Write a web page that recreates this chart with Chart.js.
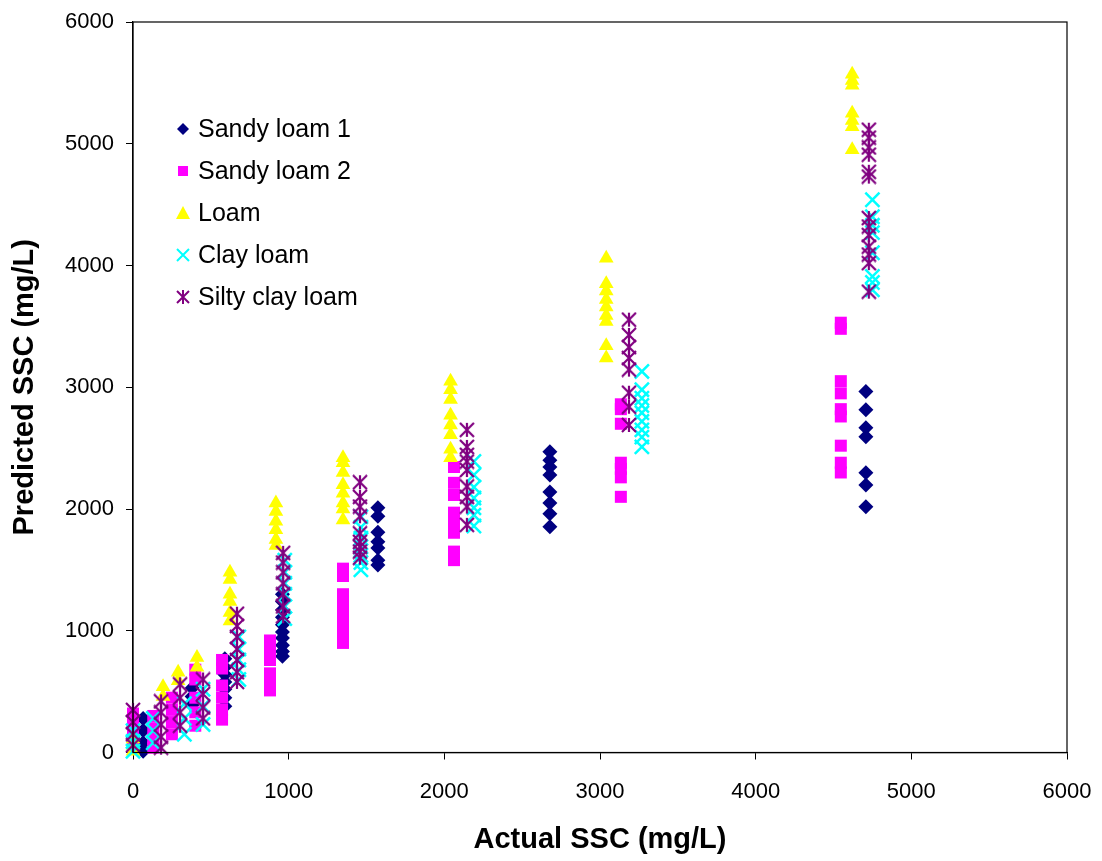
<!DOCTYPE html>
<html>
<head>
<meta charset="utf-8">
<script src="https://cdn.jsdelivr.net/npm/chart.js@4/dist/chart.umd.min.js"></script>
<style>
  html, body { margin: 0; padding: 0; background: #fff; }
  canvas { display: block; }
</style>
</head>
<body>
<canvas id="sscChart" width="1102" height="861"></canvas>
<script>
// --- data: actual SSC levels per soil, with predicted values at each level ---
const sandyLoam1Actual = [65, 380, 590, 960, 1573, 2678, 4708];
const sandyLoam1Predicted = [
    [280, 180, 80, 10],
    [530, 460, 390],
    [770, 700, 640, 580, 520, 450, 380],
    [1300, 1240, 1170, 1110, 1050, 990, 940, 880, 830, 790],
    [2010, 1940, 1810, 1730, 1680, 1580, 1540],
    [2470, 2400, 2345, 2280, 2140, 2050, 1960, 1855],
    [2965, 2815, 2667, 2593, 2297, 2198, 2018]
];

const sandyLoam2Actual = [0, 130, 250, 400, 572, 880, 1349, 2062, 3134, 4547];
const sandyLoam2Predicted = [
    [320, 250, 180, 100],
    [300, 200, 110, 40],
    [450, 350, 250, 150],
    [680, 600, 450, 330, 220],
    [760, 690, 550, 450, 350, 270],
    [920, 850, 760, 650, 580, 510],
    [1510, 1450, 1300, 1220, 1130, 1050, 960, 900],
    [2345, 2215, 2115, 1970, 1885, 1805, 1650, 1580],
    [2860, 2820, 2700, 2380, 2330, 2260, 2100],
    [3530, 3480, 3050, 2950, 2820, 2760, 2520, 2380, 2300]
];

const loamActual = [0, 193, 290, 411, 623, 918, 1349, 2040, 3040, 4620];
const loamPredicted = [
    [10, 60, 110],
    [540, 460],
    [660, 590],
    [780, 700],
    [1480, 1420, 1300, 1240, 1150, 1080],
    [2050, 1980, 1900, 1830, 1750, 1700],
    [2420, 2380, 2300, 2200, 2130, 2050, 2000, 1910],
    [3050, 2980, 2900, 2770, 2690, 2610, 2490, 2420],
    [4060, 3850, 3790, 3720, 3660, 3590, 3540, 3340, 3240],
    [5570, 5520, 5480, 5250, 5190, 5140, 4950]
];

const clayLoamActual = [0, 130, 330, 450, 680, 975, 1464, 2190, 3269, 4750];
const clayLoamPredicted = [
    [180, 90, 10],
    [280, 180, 80],
    [400, 280, 150],
    [520, 380, 230],
    [950, 850, 760, 680, 600],
    [1580, 1480, 1390, 1300, 1200, 1100],
    [1935, 1850, 1760, 1690, 1620, 1560, 1500],
    [2390, 2280, 2180, 2090, 2010, 1950, 1860],
    [3130, 2980, 2910, 2850, 2790, 2720, 2650, 2590, 2510],
    [4540, 4400, 4330, 4270, 4105, 3910, 3860, 3800]
];

const siltyClayLoamActual = [0, 180, 302, 450, 668, 964, 1458, 2145, 3186, 4727];
const siltyClayLoamPredicted = [
    [350, 250, 150, 60],
    [420, 330, 230, 130, 40],
    [560, 450, 330, 220],
    [600, 480, 370, 280],
    [1140, 1040, 950, 850, 760, 660, 580],
    [1640, 1560, 1480, 1390, 1300, 1200, 1120],
    [2220, 2100, 2020, 1940, 1800, 1730, 1690, 1650, 1600],
    [2650, 2510, 2445, 2390, 2320, 2185, 2100, 2020, 1870],
    [3555, 3430, 3330, 3240, 3145, 2955, 2840, 2690],
    [5115, 5050, 4970, 4910, 4770, 4730, 4390, 4320, 4250, 4155, 4090, 4020, 3785]
];

const seriesLabels = ['Sandy loam 1', 'Sandy loam 2', 'Loam', 'Clay loam', 'Silty clay loam'];
const axisTicks = [0, 1000, 2000, 3000, 4000, 5000, 6000];

// --- helpers ---
function toPoints(actual, predicted) {
    const pts = [];
    actual.forEach((x, i) => predicted[i].forEach(y => pts.push({ x: x, y: y })));
    return pts;
}

// six-armed asterisk like the Excel marker
function makeAsterisk(size, color, lw) {
    const c = document.createElement('canvas');
    c.width = size; c.height = size;
    const g = c.getContext('2d');
    const m = size / 2, r = size / 2 - 1;
    g.strokeStyle = color;
    g.lineWidth = lw;
    g.beginPath();
    g.moveTo(m, m - r); g.lineTo(m, m + r);
    g.moveTo(m - r, m - r); g.lineTo(m + r, m + r);
    g.moveTo(m + r, m - r); g.lineTo(m - r, m + r);
    g.stroke();
    return c;
}

const colors = ['#000080', '#FF00FF', '#FFFF00', '#00FFFF', '#800080'];

function drawLegendMarker(ctx, i, x, y) {
    const col = colors[i];
    ctx.save();
    ctx.fillStyle = col;
    ctx.strokeStyle = col;
    ctx.beginPath();
    if (i === 0) {
        ctx.moveTo(x, y - 6); ctx.lineTo(x + 6, y); ctx.lineTo(x, y + 6); ctx.lineTo(x - 6, y);
        ctx.closePath(); ctx.fill();
    } else if (i === 1) {
        ctx.rect(x - 5, y - 5, 10, 10); ctx.fill();
    } else if (i === 2) {
        ctx.moveTo(x, y - 7); ctx.lineTo(x + 7, y + 6); ctx.lineTo(x - 7, y + 6);
        ctx.closePath(); ctx.fill();
    } else if (i === 3) {
        ctx.lineWidth = 2;
        ctx.moveTo(x - 6, y - 6); ctx.lineTo(x + 6, y + 6);
        ctx.moveTo(x + 6, y - 6); ctx.lineTo(x - 6, y + 6);
        ctx.stroke();
    } else {
        ctx.lineWidth = 2;
        ctx.moveTo(x, y - 7); ctx.lineTo(x, y + 7);
        ctx.moveTo(x - 6, y - 6); ctx.lineTo(x + 6, y + 6);
        ctx.moveTo(x + 6, y - 6); ctx.lineTo(x - 6, y + 6);
        ctx.stroke();
    }
    ctx.restore();
}

// box round the plot area plus the legend inside it
const framePlugin = {
    id: 'frameAndLegend',
    afterDatasetsDraw(chart) {
        const { ctx, chartArea: a } = chart;
        ctx.save();
        ctx.strokeStyle = '#000';
        ctx.lineWidth = 1.2;
        ctx.strokeRect(a.left, a.top, a.right - a.left, a.bottom - a.top);

        ctx.font = '25px "Liberation Sans", Arial, sans-serif';
        ctx.textBaseline = 'middle';
        seriesLabels.forEach((label, i) => {
            const y = a.top + 107 + i * 42;
            drawLegendMarker(ctx, i, a.left + 50, y);
            ctx.fillStyle = '#000';
            ctx.fillText(label, a.left + 65, y + 1);
        });
        ctx.restore();
    }
};

const font = { family: '"Liberation Sans", Arial, sans-serif', size: 22 };
const titleFont = { family: '"Liberation Sans", Arial, sans-serif', size: 29, weight: 'bold' };

new Chart(document.getElementById('sscChart').getContext('2d'), {
    type: 'scatter',
    data: {
        datasets: [
            {
                label: seriesLabels[0],
                data: toPoints(sandyLoam1Actual, sandyLoam1Predicted),
                pointStyle: 'rectRot', pointRadius: 7.5,
                backgroundColor: colors[0], borderColor: colors[0], borderWidth: 0,
                order: 5, clip: false
            },
            {
                label: seriesLabels[1],
                data: toPoints(sandyLoam2Actual, sandyLoam2Predicted),
                pointStyle: 'rect', pointRadius: 8.5,
                backgroundColor: colors[1], borderColor: colors[1], borderWidth: 0,
                order: 4, clip: false
            },
            {
                label: seriesLabels[2],
                data: toPoints(loamActual, loamPredicted),
                pointStyle: 'triangle', pointRadius: 8.5,
                backgroundColor: colors[2], borderColor: colors[2], borderWidth: 0,
                order: 3, clip: false
            },
            {
                label: seriesLabels[3],
                data: toPoints(clayLoamActual, clayLoamPredicted),
                pointStyle: 'crossRot', pointRadius: 10,
                backgroundColor: colors[3], borderColor: colors[3], borderWidth: 2.5,
                order: 2, clip: false
            },
            {
                label: seriesLabels[4],
                data: toPoints(siltyClayLoamActual, siltyClayLoamPredicted),
                pointStyle: makeAsterisk(16, colors[4], 2.2), pointRadius: 8,
                backgroundColor: colors[4], borderColor: colors[4], borderWidth: 0,
                order: 1, clip: false
            }
        ]
    },
    options: {
        responsive: false,
        animation: false,
        layout: { padding: { top: 22, right: 35, left: 0, bottom: 0 } },
        plugins: {
            legend: { display: false },
            tooltip: { enabled: false }
        },
        scales: {
            x: {
                type: 'linear', min: 0, max: 6000,
                afterBuildTicks: s => { s.ticks = axisTicks.map(v => ({ value: v })); },
                afterFit: s => { s.height = 108.5; s.paddingLeft = 0; s.paddingRight = 0; },
                ticks: { color: '#000', font: font, padding: 19, maxRotation: 0, callback: v => String(v) },
                grid: { drawOnChartArea: false, drawTicks: true, tickLength: 7, color: '#000' },
                border: { display: true, color: '#000', width: 1.2 },
                title: { display: true, text: 'Actual SSC (mg/L)', color: '#000', font: titleFont, padding: { top: 0, bottom: 4 } }
            },
            y: {
                type: 'linear', min: 0, max: 6000,
                afterBuildTicks: s => { s.ticks = axisTicks.map(v => ({ value: v })); },
                afterFit: s => { s.width = 133; s.paddingTop = 0; s.paddingBottom = 0; },
                ticks: { color: '#000', font: font, padding: 12, callback: v => String(v) },
                grid: { drawOnChartArea: false, drawTicks: true, tickLength: 7, color: '#000' },
                border: { display: true, color: '#000', width: 1.2 },
                title: { display: true, text: 'Predicted SSC (mg/L)', color: '#000', font: titleFont, padding: { top: 8, bottom: 0 } }
            }
        }
    },
    plugins: [framePlugin]
});
</script>
</body>
</html>
